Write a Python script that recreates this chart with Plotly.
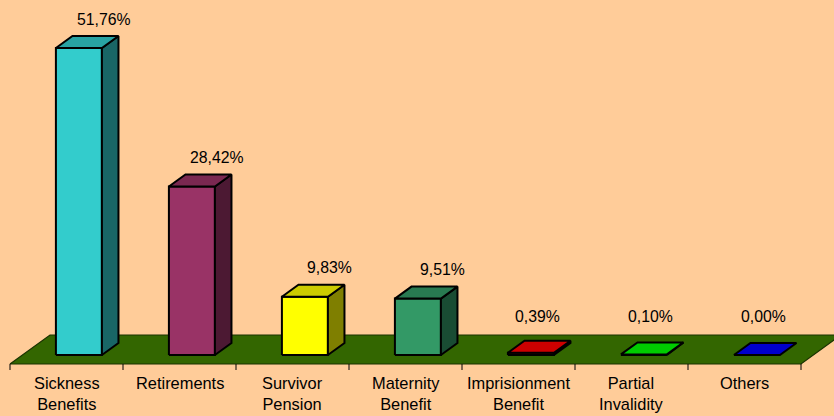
import plotly.graph_objects as go

# ---- data ----
categories = ["Sickness<br>Benefits", "Retirements", "Survivor<br>Pension", "Maternity<br>Benefit",
              "Imprisionment<br>Benefit", "Partial<br>Invalidity", "Others"]
values = [51.76, 28.42, 9.83, 9.51, 0.39, 0.10, 0.00]
front_colors = ["#33CCCC", "#993366", "#FFFF00", "#339966", "#FF0000", "#00FF00", "#0000FF"]

# ---- geometry / style constants ----
W, H = 834, 416
PX_X = 113.0          # pixels per category
PX_Y = 5.93           # pixels per percent
ZERO_PIX = 355.0      # pixel row of value 0 (front face)
LEFT_PIX = 10.0       # pixel column of the floor front-left corner
KX = 40.0 / PX_X      # full floor depth, x data units
KY = 29.0 / PX_Y      # full floor depth, y data units
D0, D1 = 9.0 / 29.0, 21.0 / 29.0  # bar front/back depth fractions
BW = 46.0 / PX_X      # bar width
BG = "#FFCC99"
FLOOR = "#336600"
FONT = "Arial, Liberation Sans, sans-serif"
FS_VAL = 15.8
FS_CAT = 16.4


def shade(hexc, f):
    h = hexc.lstrip("#")
    r, g, b = (int(h[i:i + 2], 16) for i in (0, 2, 4))
    return "#{:02X}{:02X}{:02X}".format(int(r * f), int(g * f), int(b * f))


fig = go.Figure()

def poly(xs, ys, fill, lw=2, lc="black"):
    fig.add_trace(go.Scatter(x=xs + [xs[0]], y=ys + [ys[0]], mode="lines", fill="toself",
                             fillcolor=fill, line=dict(color=lc, width=lw),
                             hoverinfo="skip", showlegend=False))

n = len(categories)
yf = -D0 * KY  # floor front level
# floor
poly([-0.5, n - 0.5, n - 0.5 + KX, -0.5 + KX], [yf, yf, yf + KY, yf + KY], FLOOR, lw=1.2, lc="#1A3300")

# tick marks along front edge
tx, ty = [], []
for k in range(n + 1):
    b = -0.5 + k
    tx += [b, b, None]
    ty += [yf, yf - 6.0 / PX_Y, None]
fig.add_trace(go.Scatter(x=tx, y=ty, mode="lines", line=dict(color="black", width=1),
                         hoverinfo="skip", showlegend=False))

bdx = (D1 - D0) * KX
bdy = (D1 - D0) * KY
for i, (v, c) in enumerate(zip(values, front_colors)):
    xa = i - BW / 2 + D0 * KX
    xb = xa + BW
    if v > 0.05:
        poly([xa, xb, xb, xa], [0, 0, v, v], c)
        poly([xb, xb + bdx, xb + bdx, xb], [0, bdy, v + bdy, v], shade(c, 0.5))
    poly([xa, xb, xb + bdx, xa + bdx], [v, v, v + bdy, v + bdy], shade(c, 0.8))

annotations = []
for i, v in enumerate(values):
    dx = 0.33 if v > 5 else 0.17
    annotations.append(dict(x=i + dx, y=max(v, 1.6) + 4.9, xref="x", yref="y",
                            text=f"{v:.2f}".replace(".", ",") + "%", showarrow=False,
                            font=dict(family=FONT, size=FS_VAL, color="black"),
                            xanchor="center", yanchor="middle"))
for i, cat in enumerate(categories):
    annotations.append(dict(x=i, y=1 - 372.0 / H, xref="x", yref="paper", text=cat,
                            showarrow=False, font=dict(family=FONT, size=FS_CAT, color="black"),
                            xanchor="center", yanchor="top"))

x_left = -0.5 - LEFT_PIX / PX_X
y_top = ZERO_PIX / PX_Y
fig.update_layout(
    width=W, height=H, margin=dict(l=0, r=0, t=0, b=0),
    paper_bgcolor=BG, plot_bgcolor=BG,
    xaxis=dict(range=[x_left, x_left + W / PX_X], visible=False, fixedrange=True),
    yaxis=dict(range=[y_top - H / PX_Y, y_top], visible=False, fixedrange=True),
    annotations=annotations, showlegend=False,
)
fig.write_html("out.html", config={"displayModeBar": False},
               post_script="document.body.style.margin='0';document.body.style.padding='0';"
                           "document.body.style.overflow='hidden';")
